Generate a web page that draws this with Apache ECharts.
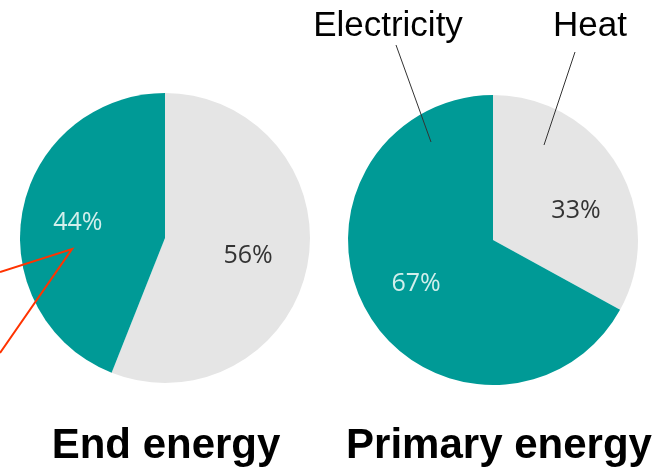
<!DOCTYPE html>
<html>
<head>
<meta charset="utf-8">
<script src="https://cdn.jsdelivr.net/npm/echarts@6/dist/echarts.min.js"></script>
<style>
  html, body { margin: 0; padding: 0; background: #fff; }
  #chart { width: 665px; height: 474px; }
</style>
</head>
<body>
<div id="chart"></div>
<script>
// data
var categories = ['Heat', 'Electricity'];
var endEnergy = [56, 44];
var primaryEnergy = [33, 67];
var chartTitles = ['End energy', 'Primary energy'];

var sliceColors = ['#e5e5e5', '#009a96'];
var labelColors = ['#333333', '#d2efec'];

var chart = echarts.init(document.getElementById('chart'));

// build pie items, label nudges are only for placing the % text like the original
function pieData(values, nudges) {
    return values.map(function (v, i) {
        return {
            value: v,
            name: categories[i],
            itemStyle: { color: sliceColors[i] },
            label: { color: labelColors[i], offset: nudges[i] }
        };
    });
}

function pieSeries(center, values, nudges) {
    return {
        type: 'pie',
        center: center,
        radius: 145,
        startAngle: 90,
        clockwise: true,
        silent: true,
        label: {
            show: true,
            position: 'inside',
            formatter: '{c}%',
            fontFamily: 'Open Sans',
            fontSize: 25,
            fontWeight: 'normal'
        },
        labelLine: { show: false },
        emphasis: { disabled: true },
        data: pieData(values, nudges)
    };
}

var titleStyle = { fontFamily: 'Liberation Sans', fontSize: 42, fontWeight: 'bold', color: '#000' };

var option = {
    backgroundColor: '#fff',
    animation: false,
    title: [
        { text: chartTitles[0], left: 161, top: 420, textAlign: 'center', textStyle: titleStyle },
        { text: chartTitles[1], left: 494, top: 420, textAlign: 'center', textStyle: titleStyle }
    ],
    series: [
        pieSeries([165, 238], endEnergy, [[9, 4], [-13, -1]]),
        pieSeries([493, 240], primaryEnergy, [[18, 9], [-12, 5]])
    ],
    graphic: [
        // red pointer lines on the left
        {
            type: 'polyline', z: 100,
            shape: { points: [[0, 272], [72, 249], [0, 353]] },
            style: { stroke: '#ff3300', lineWidth: 2, fill: null }
        },
        // category callouts above the right pie
        {
            type: 'text', z: 100,
            style: { text: categories[1], x: 388, y: 26, align: 'center', verticalAlign: 'middle',
                font: '35px "Liberation Sans"', fill: '#000' }
        },
        {
            type: 'text', z: 100,
            style: { text: categories[0], x: 590, y: 26, align: 'center', verticalAlign: 'middle',
                font: '35px "Liberation Sans"', fill: '#000' }
        },
        {
            type: 'line', z: 100,
            shape: { x1: 396, y1: 45, x2: 431, y2: 142 },
            style: { stroke: '#333', lineWidth: 1 }
        },
        {
            type: 'line', z: 100,
            shape: { x1: 575, y1: 52, x2: 544, y2: 145 },
            style: { stroke: '#333', lineWidth: 1 }
        }
    ]
};

chart.setOption(option);
</script>
</body>
</html>
